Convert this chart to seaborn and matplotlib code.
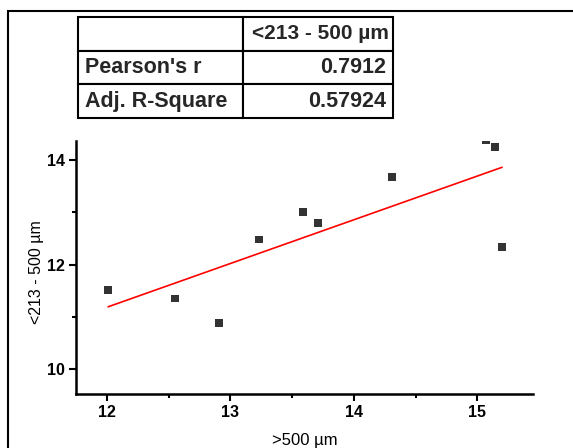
import matplotlib
matplotlib.use("Agg")
import matplotlib.pyplot as plt
import seaborn as sns
import numpy as np
import pandas as pd
from matplotlib.patches import Rectangle
from matplotlib.ticker import MultipleLocator

# ---- data ----
x_vals = [12.01, 12.55, 12.91, 13.23, 13.59, 13.71, 14.31, 15.07, 15.14, 15.20]
y_vals = [11.52, 11.35, 10.88, 12.48, 13.01, 12.79, 13.67, 14.38, 14.24, 12.34]
x_label = ">500 µm"
y_label = "<213 - 500 µm"
table_header = ["", "<213 - 500 µm"]
table_rows = [["Pearson's r", "0.7912"], ["Adj. R-Square", "0.57924"]]
x_ticks = [12, 13, 14, 15]
y_ticks = [10, 12, 14]

df = pd.DataFrame({"x": x_vals, "y": y_vals})

sns.set_theme(style="ticks")
plt.rcParams['font.family'] = ['Liberation Sans', 'DejaVu Sans']

W, H = 573, 448
fig = plt.figure(figsize=(W / 100, H / 100), dpi=100)
ax = fig.add_axes([76 / W, 1 - 394 / H, (533 - 76) / W, (394 - 141) / H])

sns.regplot(data=df, x="x", y="y", ax=ax, ci=None, marker="s",
            scatter_kws=dict(color="black", s=30, edgecolor="none", clip_on=True, zorder=3),
            line_kws=dict(color="red", lw=1.2, zorder=2))

ax.set_xlim(11.75, 15.45)
ax.set_ylim(9.53, 14.36)
ax.set_xticks(x_ticks)
ax.set_yticks(y_ticks)
ax.xaxis.set_minor_locator(MultipleLocator(0.5))
ax.yaxis.set_minor_locator(MultipleLocator(1))
ax.tick_params(which="major", length=5, width=1.5, labelsize=11.5, color="black", labelcolor="black", pad=3)
ax.tick_params(which="minor", length=3, width=1.5, color="black")
for lab in ax.get_xticklabels() + ax.get_yticklabels():
    lab.set_fontweight("bold")
for s in ["top", "right"]:
    ax.spines[s].set_visible(False)
for s in ["left", "bottom"]:
    ax.spines[s].set_linewidth(1.8)
    ax.spines[s].set_color("black")
ax.set_xlabel(x_label, fontsize=12, color="black", labelpad=9)
ax.set_ylabel(y_label, fontsize=11.5, color="black")
ax.yaxis.set_label_coords(-0.069, 0.48)

# table above the plot
axw, axh = 533 - 76, 394 - 141
bx0 = (78 - 76) / axw
bx1 = (393 - 76) / axw
by1 = (394 - 17) / axh
by0 = (394 - 118) / axh
cells = [table_header] + table_rows
tbl = ax.table(cellText=cells, bbox=[bx0, by0, bx1 - bx0, by1 - by0],
               colWidths=[165, 150], cellLoc="right")
tbl.auto_set_font_size(False)
for (r, c), cell in tbl.get_celld().items():
    cell.set_linewidth(1.5)
    cell.set_edgecolor("black")
    cell.set_facecolor("white")
    t = cell.get_text()
    t.set_fontsize(15.5)
    t.set_fontweight("bold")
    if c == 0:
        cell.set_text_props(ha="left")
    cell.PAD = 0.045
    if r == 0 and c == 1:
        t.set_fontsize(15)
        cell.PAD = 0.025

# outer frame
fig.patches.append(Rectangle((8 / W, -0.1), 1.2, 1 - 11 / H + 0.1, transform=fig.transFigure,
                             fill=False, edgecolor="black", lw=1.5))

fig.savefig("out.png", dpi=100)
